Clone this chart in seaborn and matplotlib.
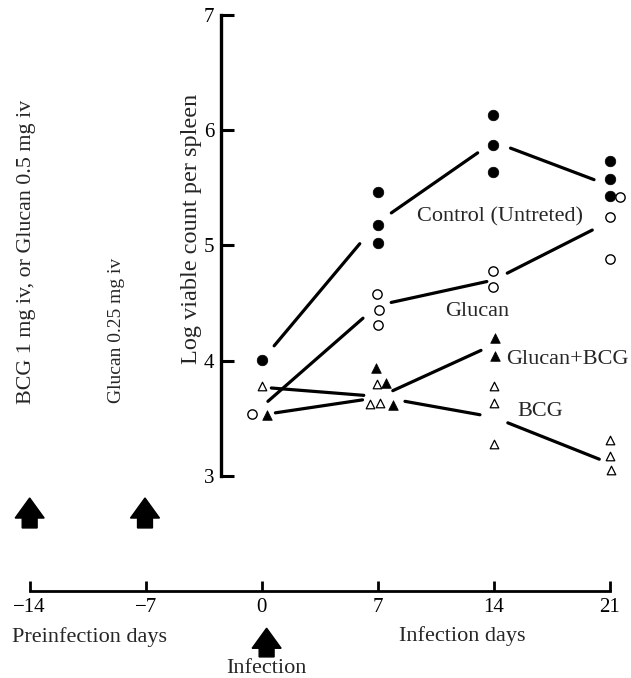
import matplotlib
matplotlib.use("Agg")
import matplotlib.pyplot as plt
from matplotlib.patches import FancyArrow
import seaborn as sns
import pandas as pd

# ---------------- data ----------------
days_ticks = [-14, -7, 0, 7, 14, 21]
yticks = [3, 4, 5, 6, 7]

control_days = [0, 7.0, 7.0, 7.0, 13.95, 13.95, 13.95, 21.0, 21.0, 21.0]
control_vals = [4.01, 5.46, 5.18, 5.02, 6.13, 5.87, 5.635, 5.73, 5.58, 5.43]

glucan_days = [-0.57, 6.95, 7.1, 7.0, 13.95, 13.95, 21.65, 21.05, 21.0]
glucan_vals = [3.54, 4.58, 4.44, 4.31, 4.78, 4.64, 5.42, 5.245, 4.88]

gb_days = [0.3, 6.9, 7.5, 7.9, 14.1, 14.1]
gb_vals = [3.53, 3.94, 3.81, 3.62, 4.195, 4.04]

bcg_days = [0.0, 6.95, 6.55, 7.15, 14.0, 14.0, 14.05, 21.0, 21.05, 21.1]
bcg_vals = [3.78, 3.80, 3.625, 3.63, 3.78, 3.63, 3.28, 3.31, 3.17, 3.05]

line_days = [0, 7, 14, 21]
control_line = [4.0, 5.2, 5.9, 5.52]
glucan_line = [3.6, 4.48, 4.7, 5.21]
gb_line = [3.53, 3.68, 4.14]
bcg_line = [3.77, 3.69, 3.51, 3.11]

# ---------------- style ----------------
sns.set_theme(style="white")
plt.rcParams["font.family"] = ["Liberation Serif", "DejaVu Serif"]
plt.rcParams["mathtext.default"] = "regular"

fig = plt.figure(figsize=(6.31, 6.78), dpi=100)
ax = fig.add_axes([0, 0, 1, 1])
ax.set_facecolor("white")
ax.set_xlim(-15.79, 22.29)
ax.set_ylim(1.247, 7.130)

# points
def pts(d, v, name):
    return pd.DataFrame({"day": d, "val": v, "group": name})

sns.scatterplot(data=pts(control_days, control_vals, "c"), x="day", y="val",
                marker="o", s=58, color="black", edgecolor="black", linewidth=0.5,
                ax=ax, zorder=3, legend=False)
sns.scatterplot(data=pts(glucan_days, glucan_vals, "g"), x="day", y="val",
                marker="o", s=45, facecolor="white", edgecolor="black", linewidth=1.0,
                ax=ax, zorder=3, legend=False)
sns.scatterplot(data=pts(gb_days, gb_vals, "gb"), x="day", y="val",
                marker="^", s=48, color="black", edgecolor="black", linewidth=0.5,
                ax=ax, zorder=3, legend=False)
sns.scatterplot(data=pts(bcg_days, bcg_vals, "b"), x="day", y="val",
                marker="^", s=38, facecolor="white", edgecolor="black", linewidth=0.9,
                ax=ax, zorder=3, legend=False)

# connecting lines with gaps near the point clusters
def segs(days, vals, shrinks):
    for i in range(len(days) - 1):
        sa, sb = shrinks[i]
        ax.annotate("", xy=(days[i + 1], vals[i + 1]), xytext=(days[i], vals[i]),
                    arrowprops=dict(arrowstyle="-", lw=2.3, color="black",
                                    shrinkA=sa, shrinkB=sb))

segs(line_days, control_line, [(14, 20), (12, 14), (13, 12)])
segs(line_days, glucan_line, [(6, 14), (10, 5), (11, 14)])
segs(line_days[:3], gb_line, [(10, 11), (12, 10)])
segs(line_days, bcg_line, [(7, 10), (20, 10), (11, 8)])

# series labels
tfs = 16
ax.text(9.35, 5.25, "Control (Untreted)", fontsize=tfs, ha="left", va="center")
ax.text(13.0, 4.43, "Glucan", fontsize=tfs, ha="center", va="center")
ax.text(14.75, 4.01, "Glucan+BCG", fontsize=tfs, ha="left", va="center")
ax.text(16.8, 3.56, "BCG", fontsize=tfs, ha="center", va="center")

# spines / axes
for side in ["top", "right"]:
    ax.spines[side].set_visible(False)
ax.spines["left"].set_position(("data", -2.45))
ax.spines["left"].set_bounds(3, 7)
ax.spines["left"].set_linewidth(2.4)
ax.spines["bottom"].set_position(("data", 2.0))
ax.spines["bottom"].set_bounds(-14, 21)
ax.spines["bottom"].set_linewidth(2.0)
for s in ["left", "bottom"]:
    ax.spines[s].set_color("black")

ax.set_yticks(yticks)
ax.set_yticklabels([str(t) for t in yticks])
ax.set_xticks(days_ticks)
ax.set_xticklabels(["\u221214", "\u22127", "0", "7", "14", "21"])
ax.set_xticks([0], minor=True)
ax.tick_params(axis="y", direction="in", length=9.5, width=2.2, pad=5,
               labelsize=15, colors="black", left=True)
ax.tick_params(axis="x", which="major", direction="in", length=7.5, width=2.0,
               pad=5, labelsize=15, colors="black", bottom=True)
ax.tick_params(axis="x", which="minor", direction="in", length=15, width=2.2,
               bottom=True)
ax.set_xlabel("")
ax.set_ylabel("")

# rotated texts
ax.text(-4.21, 5.14, "Log viable count per spleen", rotation=90, fontsize=17.5,
        ha="center", va="center")
ax.text(-14.17, 4.94, "BCG 1 mg iv, or Glucan 0.5 mg iv", rotation=90, fontsize=15.8,
        ha="center", va="center")
ax.text(-8.73, 4.26, "Glucan 0.25 mg iv", rotation=90, fontsize=14,
        ha="center", va="center")

# bottom captions
ax.text(-10.36, 1.60, "Preinfection days", fontsize=16, ha="center", va="center")
ax.text(12.09, 1.61, "Infection days", fontsize=16, ha="center", va="center")
ax.text(0.3, 1.33, "Infection", fontsize=16, ha="center", va="center")

# block arrows
def block_arrow(x, y0, y1):
    ax.add_patch(FancyArrow(x, y0, 0, y1 - y0, width=0.9, head_width=1.75,
                            head_length=0.174, length_includes_head=True,
                            color="black", zorder=4))

block_arrow(-14.0, 2.549, 2.809)
block_arrow(-7.04, 2.549, 2.809)
block_arrow(0.3, 1.43, 1.679)

fig.savefig("out.png", dpi=100, facecolor="white")
